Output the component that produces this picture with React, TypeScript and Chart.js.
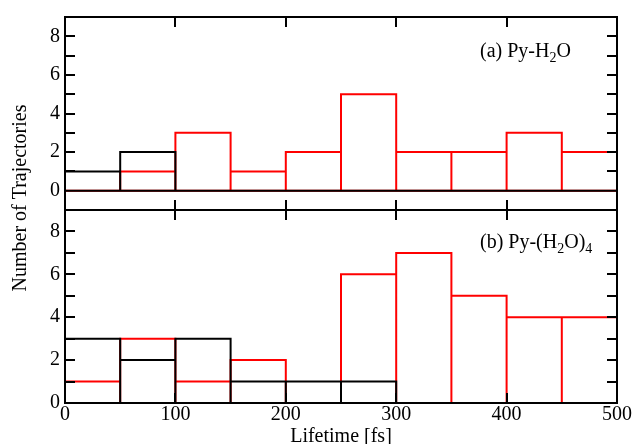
import React, { useEffect, useRef } from 'react';
import { Chart, registerables } from 'chart.js';

Chart.register(...registerables);

// ---- data ----
const binStarts = [0, 50, 100, 150, 200, 250, 300, 350, 400, 450];
const binWidth = 50;
const xTickValues = [0, 100, 200, 300, 400, 500];
const yTickLabelValues = [0, 2, 4, 6, 8];
const yMinorTickValues = [1, 2, 3, 4, 5, 6, 7, 8];
const xMinorTickValues = [100, 200, 300, 400];

const panelARed = [0, 1, 3, 1, 2, 5, 2, 2, 3, 2];
const panelABlack = [1, 2, 0, 0, 0, 0, 0, 0, 0, 0];
const panelBRed = [1, 3, 1, 2, 0, 6, 7, 5, 4, 4];
const panelBBlack = [3, 2, 3, 1, 1, 1, 0, 0, 0, 0];

const panelALabel = [
  { t: '(a) Py-H', sub: false },
  { t: '2', sub: true },
  { t: 'O', sub: false },
];
const panelBLabel = [
  { t: '(b) Py-(H', sub: false },
  { t: '2', sub: true },
  { t: 'O)', sub: false },
  { t: '4', sub: true },
];
const xTitle = 'Lifetime [fs]';
const yTitle = 'Number of Trajectories';

const FONT = "'Liberation Serif', 'Times New Roman', Times, serif";
const RED = '#ff0000';
const BLACK = '#000000';

// Outline of a histogram: every bin drawn as a rectangle (left, top, right, base)
function outline(counts: number[]) {
  const pts: { x: number; y: number }[] = [];
  counts.forEach((h, i) => {
    const x0 = binStarts[i];
    const x1 = x0 + binWidth;
    pts.push({ x: x0, y: 0 }, { x: x0, y: h }, { x: x1, y: h }, { x: x1, y: 0 });
  });
  pts.push({ x: binStarts[0], y: 0 });
  return pts;
}

function drawRich(ctx: CanvasRenderingContext2D, parts: { t: string; sub: boolean }[], x: number, y: number) {
  let cx = x;
  for (const p of parts) {
    ctx.font = p.sub ? `14px ${FONT}` : `20px ${FONT}`;
    ctx.fillText(p.t, cx, p.sub ? y + 5 : y);
    cx += ctx.measureText(p.t).width;
  }
}

const framePlugin = {
  id: 'frame',
  afterDatasetsDraw(chart: any) {
    const ctx: CanvasRenderingContext2D = chart.ctx;
    const xs = chart.scales.x;
    const panels = [chart.scales.yA, chart.scales.yB];
    const L = Math.round(xs.left);
    const R = Math.round(xs.right);
    ctx.save();
    ctx.strokeStyle = BLACK;
    ctx.lineWidth = 2;
    ctx.lineCap = 'butt';
    const tl = 10;
    for (const ys of panels) {
      const T = Math.round(ys.top);
      const B = Math.round(ys.bottom);
      ctx.strokeRect(L, T, R - L, B - T);
      ctx.beginPath();
      for (const v of yMinorTickValues) {
        const py = Math.round(ys.getPixelForValue(v));
        ctx.moveTo(L, py);
        ctx.lineTo(L + tl, py);
        ctx.moveTo(R, py);
        ctx.lineTo(R - tl, py);
      }
      for (const v of xMinorTickValues) {
        const px = Math.round(xs.getPixelForValue(v));
        ctx.moveTo(px, T);
        ctx.lineTo(px, T + tl);
        ctx.moveTo(px, B);
        ctx.lineTo(px, B - tl);
      }
      ctx.stroke();
    }
    ctx.fillStyle = BLACK;
    ctx.textBaseline = 'alphabetic';
    ctx.textAlign = 'left';
    drawRich(ctx, panelALabel, 480, 57);
    drawRich(ctx, panelBLabel, 480, 248);

    ctx.font = `20px ${FONT}`;
    ctx.textAlign = 'center';
    ctx.fillText(xTitle, (L + R) / 2, 442);
    ctx.save();
    ctx.translate(26, 198);
    ctx.rotate(-Math.PI / 2);
    ctx.fillText(yTitle, 0, 0);
    ctx.restore();
    ctx.restore();
  },
};

export default function App() {
  const ref = useRef<HTMLCanvasElement>(null);
  useEffect(() => {
    if (!ref.current) return;
    const lineDs = (label: string, data: number[], axis: string, color: string, order: number) => ({
      type: 'line' as const,
      label,
      data: outline(data),
      yAxisID: axis,
      xAxisID: 'x',
      borderColor: color,
      backgroundColor: color,
      borderWidth: 2,
      borderJoinStyle: 'miter' as const,
      pointRadius: 0,
      fill: false,
      tension: 0,
      stepped: true,
      order,
    });
    const yAxis = (min: number, max: number, weight: number) => ({
      type: 'linear' as const,
      min,
      max,
      position: 'left' as const,
      stack: 'panels',
      stackWeight: 1,
      weight,
      afterBuildTicks: (s: any) => {
        s.ticks = yTickLabelValues.map((v) => ({ value: v }));
      },
      ticks: { font: { size: 20, family: FONT }, color: BLACK, padding: 5, autoSkip: false },
      grid: { display: false, drawTicks: false },
      border: { display: false },
      afterFit: (s: any) => {
        s.width = 65;
      },
    });
    const chart = new Chart(ref.current, {
      type: 'line',
      data: {
        datasets: [
          lineDs('Py-H2O black', panelABlack, 'yA', BLACK, 0),
          lineDs('Py-(H2O)4 black', panelBBlack, 'yB', BLACK, 0),
          lineDs('Py-H2O red', panelARed, 'yA', RED, 1),
          lineDs('Py-(H2O)4 red', panelBRed, 'yB', RED, 1),
        ],
      },
      options: {
        animation: false,
        responsive: true,
        maintainAspectRatio: false,
        layout: { padding: { left: 0, right: 17, top: 14, bottom: 0 } },
        plugins: { legend: { display: false }, tooltip: { enabled: false } },
        scales: {
          x: {
            type: 'linear',
            min: 0,
            max: 500,
            position: 'bottom',
            afterBuildTicks: (s: any) => {
              s.ticks = xTickValues.map((v) => ({ value: v }));
            },
            ticks: { font: { size: 20, family: FONT }, color: BLACK, padding: 0, maxRotation: 0, autoSkip: false },
            grid: { display: false, drawTicks: false },
            border: { display: false },
            afterFit: (s: any) => {
              s.height = 41;
            },
          },
          yA: yAxis(-1, 9, 2),
          yB: yAxis(0, 9, 1),
        },
      } as any,
      plugins: [framePlugin],
    });
    return () => chart.destroy();
  }, []);
  return (
    <div style={{ position: 'absolute', left: 0, top: 0, width: 634, height: 444, background: '#fff' }}>
      <canvas ref={ref} />
    </div>
  );
}
